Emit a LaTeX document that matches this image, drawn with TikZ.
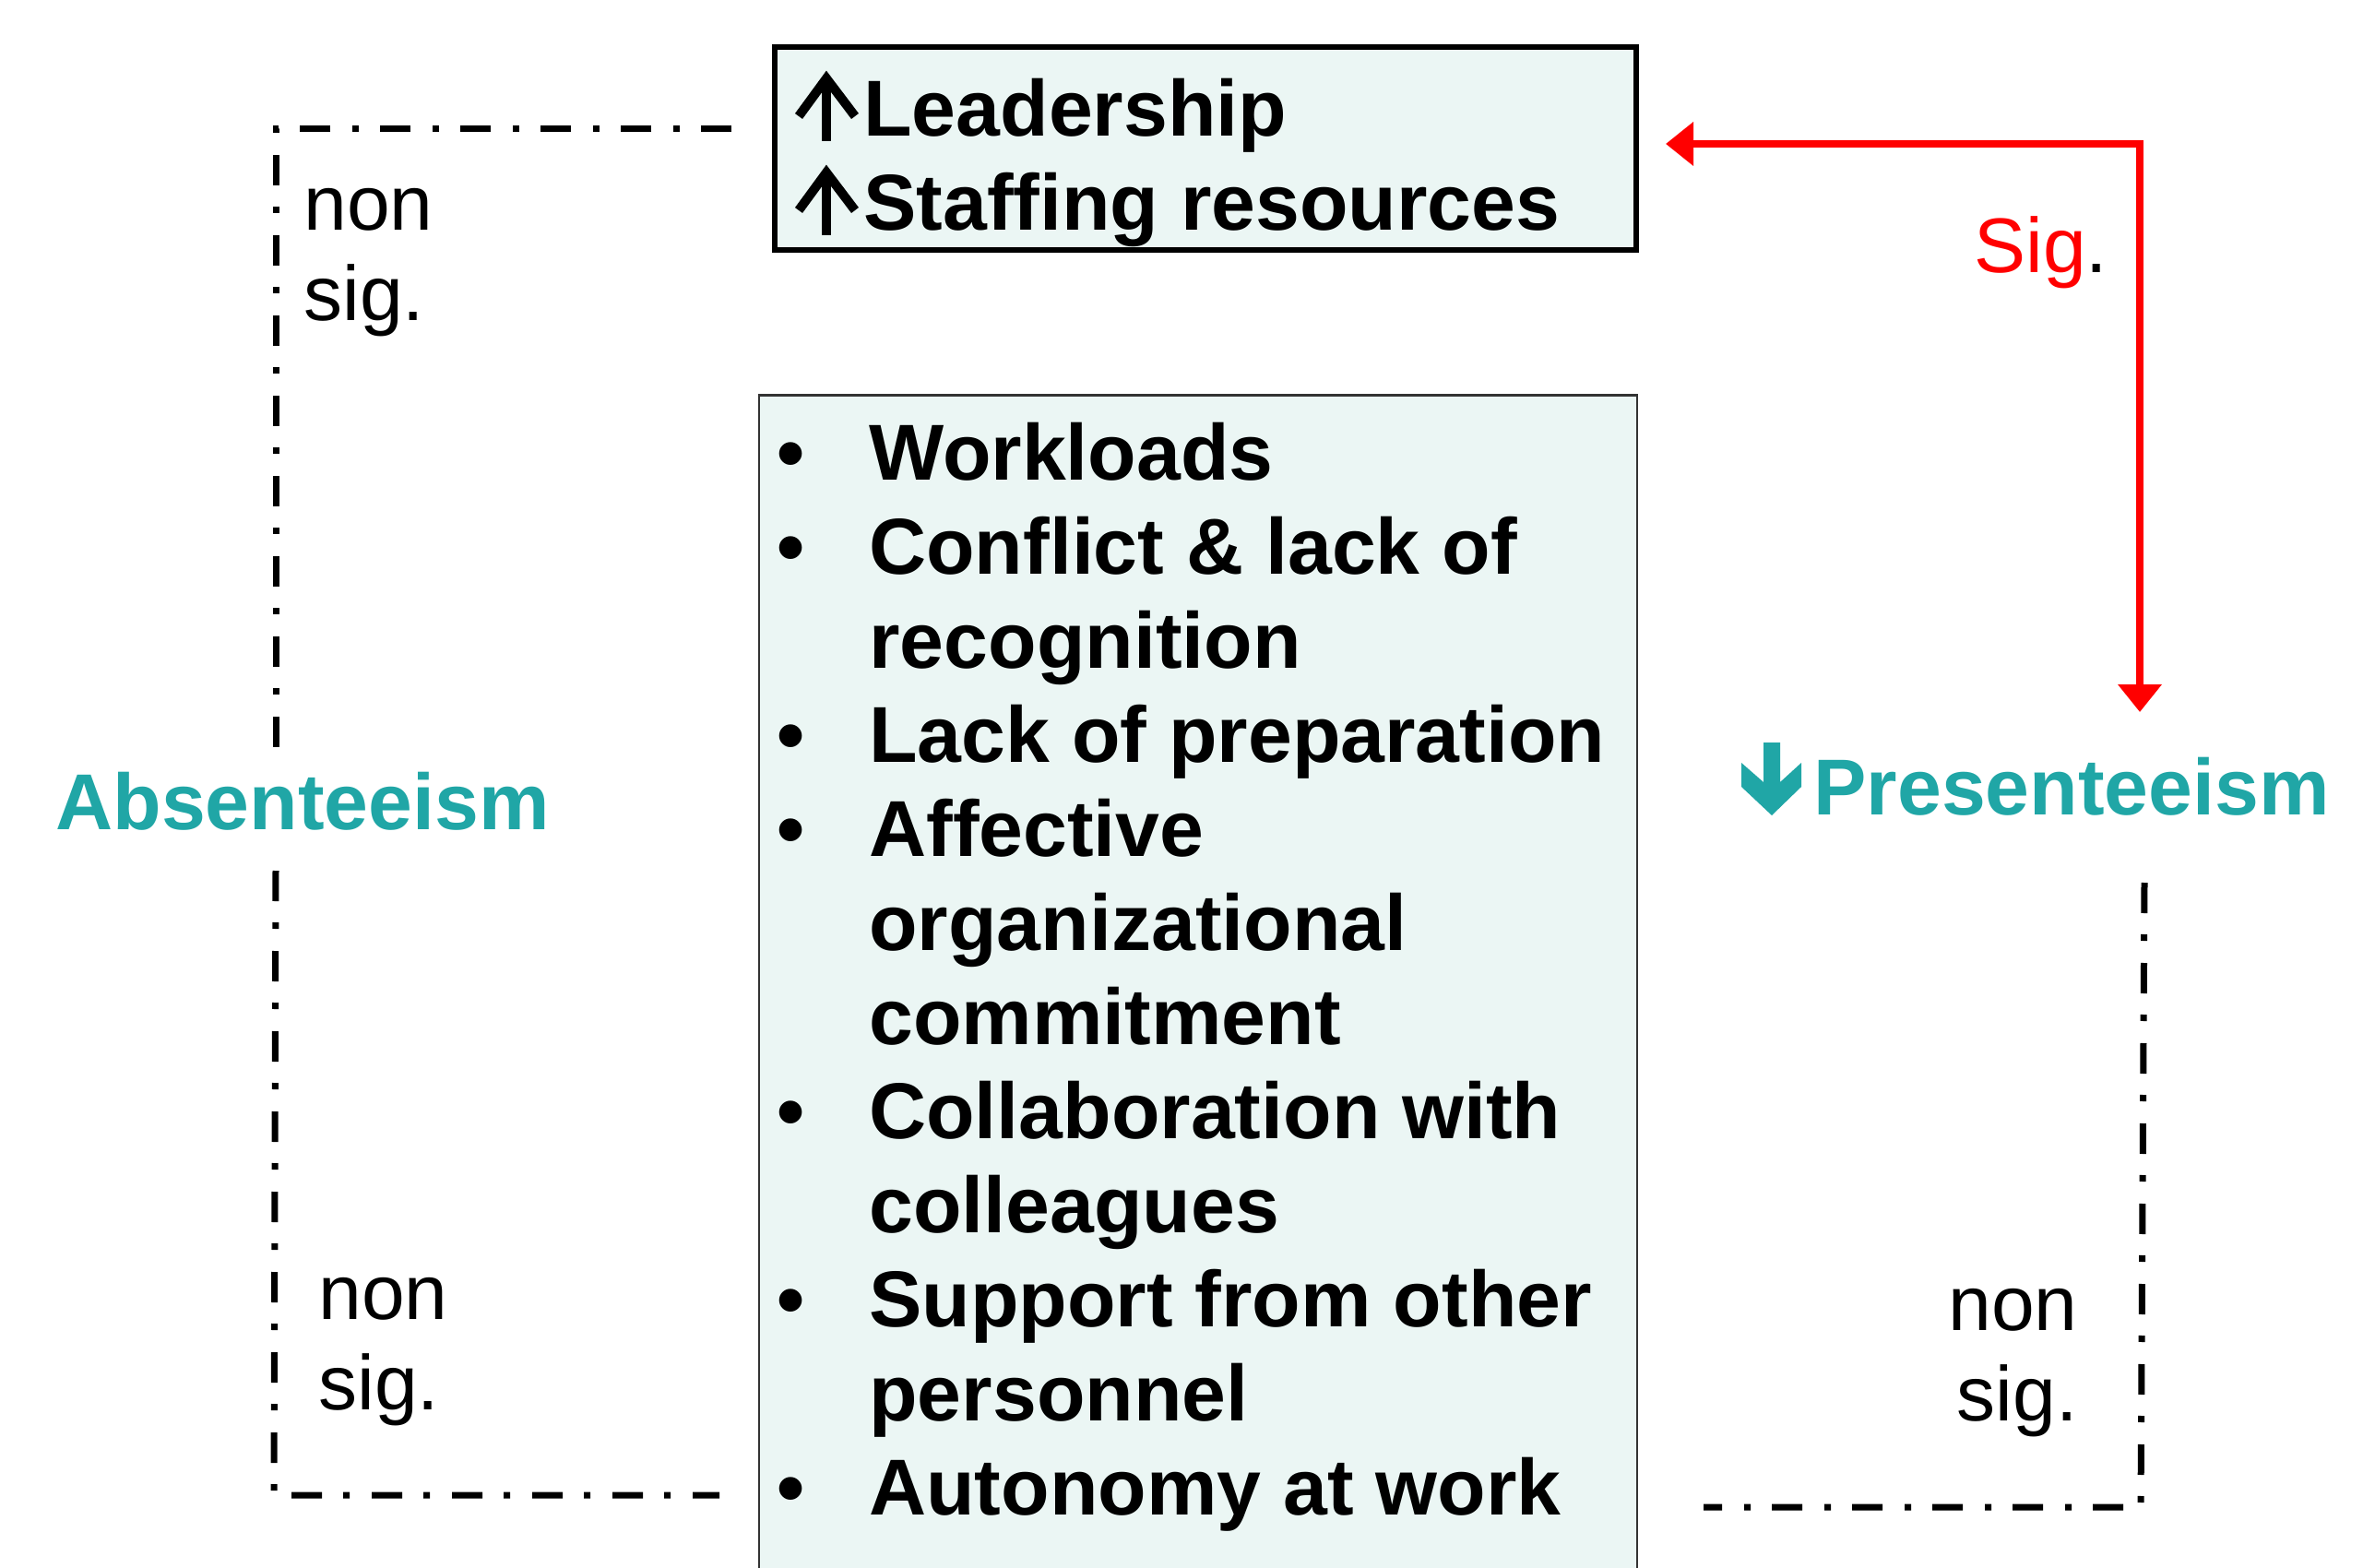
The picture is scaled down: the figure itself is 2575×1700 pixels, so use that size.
\documentclass[tikz,border=0pt]{standalone}
\usepackage{fontspec}
\setmainfont{Liberation Sans}
\usetikzlibrary{arrows.meta}
\definecolor{tealc}{RGB}{32,166,166}
\definecolor{boxfill}{RGB}{235,246,244}
\definecolor{sigred}{RGB}{255,0,0}
\begin{document}
\begin{tikzpicture}[x=0.5pt,y=-0.5pt,
  topbox/.style={draw=black, line width=3pt, fill=boxfill, minimum width=467pt, minimum height=110pt, inner sep=0pt},
  listbox/.style={draw=black!80, line width=1.2pt, fill=boxfill, minimum width=476pt, minimum height=666pt, inner sep=0pt},
  boldtxt/.style={font=\fontsize{43}{51}\selectfont\bfseries, inner sep=0pt},
  outcome/.style={font=\fontsize{43}{51}\selectfont\bfseries, text=tealc, inner sep=0pt},
  nslabel/.style={font=\fontsize{42}{49}\selectfont, inner sep=0pt},
  uparrow/.style={line width=5pt, miter limit=10},
  nonsig/.style={line width=3.5pt, dash pattern=on 16.5pt off 11.5pt on 3.5pt off 12pt},
  sigline/.style={draw=sigred, line width=3.6pt, {Triangle[length=15pt,width=23pt]}-{Triangle[length=15pt,width=23pt]}}
]
\useasboundingbox (0,0) rectangle (2575,1700);

% boxes
\node[topbox] (top) at (1306.5,161) {};
\node[listbox] (list) at (1299,1094.5) {};

% top box text with increase arrows
\node[boldtxt, anchor=base west] (toptext) at (936,148)
  {\begin{tabular}[t]{@{}l@{}}Leadership\\Staffing resources\end{tabular}};
\draw[uparrow] (896,153) -- (896,86);
\draw[uparrow] (866,126) -- (896,85) -- (927,126);
\draw[uparrow] (896,255) -- (896,188);
\draw[uparrow] (866,228) -- (896,187) -- (927,228);

% list text
\node[boldtxt, anchor=base west] (listtext) at (842,521)
  {\begin{tabular}[t]{@{}l@{}}
  \makebox[50pt][l]{•}Workloads\\
  \makebox[50pt][l]{•}Conflict \& lack of\\
  \hspace*{50pt}recognition\\
  \makebox[50pt][l]{•}Lack of preparation\\
  \makebox[50pt][l]{•}Affective\\
  \hspace*{50pt}organizational\\
  \hspace*{50pt}commitment\\
  \makebox[50pt][l]{•}Collaboration with\\
  \hspace*{50pt}colleagues\\
  \makebox[50pt][l]{•}Support from other\\
  \hspace*{50pt}personnel\\
  \makebox[50pt][l]{•}Autonomy at work
  \end{tabular}};

% outcomes
\node[outcome, anchor=base west] (abs) at (60,899) {Absenteeism};
\node[outcome, anchor=base west] (pres) at (1966,883) {Presenteeism};
\fill[tealc] (1912,805) -- (1930,805) -- (1930,848) -- (1953,827) -- (1953,853)
  -- (1921,884) -- (1888,853) -- (1888,827) -- (1912,848) -- cycle;

% left non-significant path
\coordinate (lt1) at (793,140);
\coordinate (lt2) at (299,140);
\coordinate (lt3) at (299,821);
\coordinate (lb1) at (299,944);
\coordinate (lb2) at (297,1621);
\coordinate (lb3) at (780,1621);
\draw[nonsig] (lt1) -- (lt2) -- (lt3);
\draw[nonsig] (lb1) -- (lb2) -- (lb3);

% right non-significant path
\coordinate (rt1) at (2325,957);
\coordinate (rt2) at (2321,1634);
\coordinate (rt3) at (1847,1634);
\draw[nonsig] (rt1) -- (rt2) -- (rt3);

% significant path
\coordinate (s1) at (1806,156);
\coordinate (s2) at (2320,156);
\coordinate (s3) at (2320,772);
\draw[sigline] (s1) -- (s2) -- (s3);

% labels
\node[nslabel, anchor=base west] (ns1) at (329,250) {\begin{tabular}[t]{@{}l@{}}non\\sig.\end{tabular}};
\node[nslabel, anchor=base west] (ns2) at (345,1430) {\begin{tabular}[t]{@{}l@{}}non\\sig.\end{tabular}};
\node[nslabel, anchor=base east] (ns3) at (2253,1442) {\begin{tabular}[t]{@{}r@{}}non\\sig.\end{tabular}};
\node[nslabel, anchor=base west] (sig) at (2140,296) {\textcolor{sigred}{Sig}.};
\end{tikzpicture}
\end{document}
